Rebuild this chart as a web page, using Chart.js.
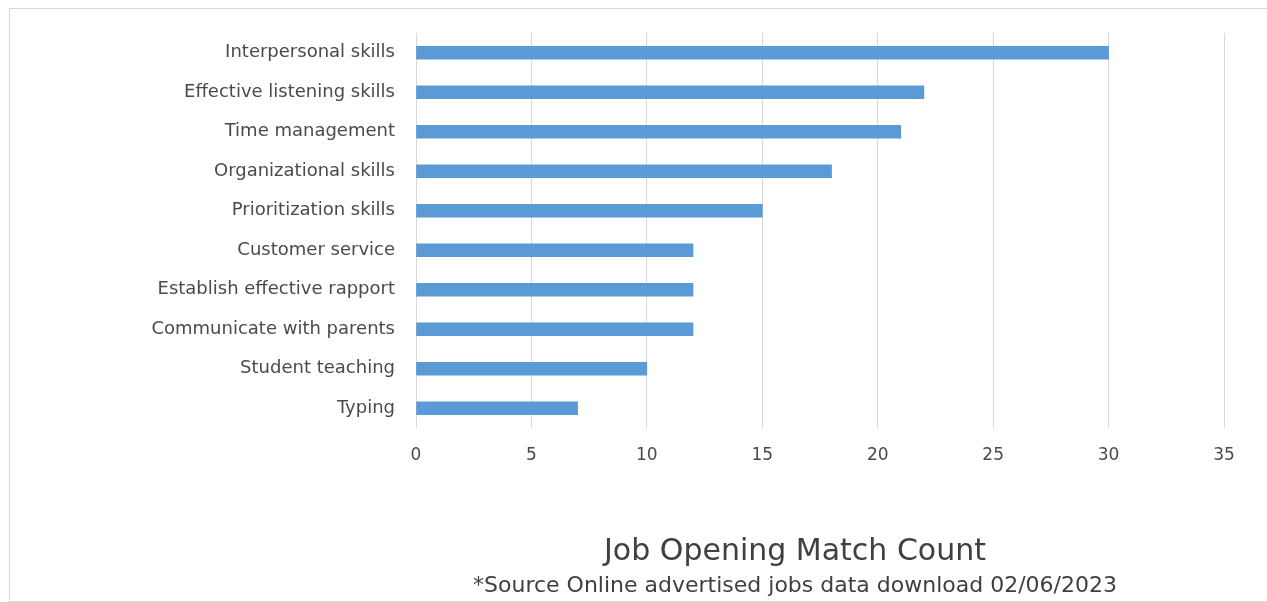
<!DOCTYPE html>
<html>
<head>
<meta charset="utf-8">
<script src="https://cdn.jsdelivr.net/npm/chart.js@4"></script>
<style>
  html, body { margin: 0; padding: 0; background: #ffffff; }
  #wrap { position: relative; width: 1267px; height: 602px; }
  canvas { display: block; }
</style>
</head>
<body>
<div id="wrap"><canvas id="c" width="1267" height="602"></canvas></div>
<script>
const categories = [
  "Interpersonal skills",
  "Effective listening skills",
  "Time management",
  "Organizational skills",
  "Prioritization skills",
  "Customer service",
  "Establish effective rapport",
  "Communicate with parents",
  "Student teaching",
  "Typing"
];
const matchCounts = [30, 22, 21, 18, 15, 12, 12, 12, 10, 7];
const titleText = "Job Opening Match Count";
const subtitleText = "*Source Online advertised jobs data download 02/06/2023";

const FONT = "'DejaVu Sans', sans-serif";
const TEXT = "#4a4a4a";

const decor = {
  id: 'decor',
  beforeDraw(chart) {
    const ctx = chart.ctx;
    ctx.save();
    ctx.fillStyle = '#ffffff';
    ctx.fillRect(0, 0, chart.width, chart.height);
    ctx.strokeStyle = '#d9d9d9';
    ctx.lineWidth = 1;
    ctx.strokeRect(9.5, 8.5, chart.width + 10, chart.height - 9);
    ctx.restore();
  },
  afterDraw(chart) {
    const ctx = chart.ctx;
    ctx.save();
    ctx.fillStyle = '#404040';
    ctx.textAlign = 'center';
    ctx.textBaseline = 'middle';
    const cx = 795;
    ctx.font = "30px " + FONT;
    ctx.fillText(titleText, cx, 552);
    ctx.font = "22px " + FONT;
    ctx.fillText(subtitleText, cx, 586);
    ctx.restore();
  }
};

new Chart(document.getElementById('c'), {
  type: 'bar',
  data: {
    labels: categories,
    datasets: [{
      data: matchCounts,
      backgroundColor: '#5b9bd5',
      borderWidth: 0,
      barThickness: 13
    }]
  },
  options: {
    indexAxis: 'y',
    responsive: false,
    animation: false,
    devicePixelRatio: 1,
    layout: { padding: { top: 33, right: 43, left: 0, bottom: 0 } },
    plugins: {
      legend: { display: false },
      tooltip: { enabled: false },
      title: { display: false }
    },
    scales: {
      x: {
        min: 0,
        max: 35,
        ticks: { stepSize: 5, color: TEXT, font: { family: FONT, size: 17 }, padding: 17 },
        grid: { color: '#d9d9d9', drawTicks: false },
        border: { display: false },
        afterFit(scale) { scale.height = 174; }
      },
      y: {
        ticks: { color: TEXT, font: { family: FONT, size: 18 }, padding: 21 },
        grid: { display: false, drawTicks: false },
        border: { display: false },
        afterFit(scale) { scale.width = 416; }
      }
    }
  },
  plugins: [decor]
});
</script>
</body>
</html>
